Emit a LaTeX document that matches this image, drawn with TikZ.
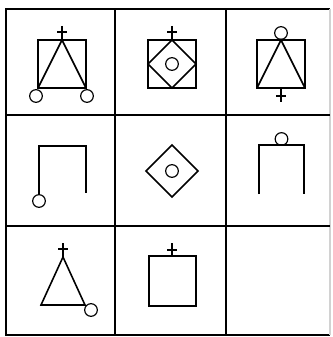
\documentclass[tikz,border=0pt]{standalone}
\usepackage{tikz}

\begin{document}
\begin{tikzpicture}[x=0.3mm,y=-0.3mm,line width=1.35pt,radius=1.9mm,
  frame/.style={line width=1.2pt},ring/.style={line width=1pt}]
 \useasboundingbox (0,0) rectangle (332,337);
 \draw[frame,line width=1.6pt] (330,335) -- (6,335) -- (6,9) -- (330,9);
 \draw[frame,gray!35] (330,9) -- (330,335);
 \foreach \v in {115,226}
   {\draw[frame] (\v,9) -- (\v,335); \draw[frame] (6,\v) -- (330,\v);}
 % row 1
 \draw (38,40) rectangle (86,88); \draw (38,88) -- (62,40) -- (86,88);
 \draw (62,26) -- (62,40) (57,32) -- (67,32);
 \draw[ring] (36,96) circle; \draw[ring] (87,96) circle;
 \draw (148,40) rectangle (196,88); \draw (172,40) -- (196,64) -- (172,88) -- (148,64) -- cycle;
 \draw (172,26) -- (172,40) (167,32) -- (177,32);
 \draw[ring] (172,64) circle;
 \draw (257,40) rectangle (305,88); \draw (257,88) -- (281,40) -- (305,88);
 \draw[ring] (281,33) circle;
 \draw (281,88) -- (281,102) (276,96) -- (286,96);
 % row 2
 \draw (39,195) -- (39,146) -- (86,146) -- (86,193);
 \draw[ring] (39,201) circle;
 \draw (172,145) -- (198,171) -- (172,197) -- (146,171) -- cycle;
 \draw[ring] (172,171) circle;
 \draw (259,194) -- (259,145) -- (304,145) -- (304,194);
 \draw[ring] (281.5,139) circle;
 % row 3
 \draw (63,257) -- (41,305) -- (85,305) -- cycle;
 \draw (63,243) -- (63,257) (58,249) -- (68,249);
 \draw[ring] (91,310) circle;
 \draw (149,256) rectangle (196,306);
 \draw (172,243) -- (172,256) (167,250) -- (177,250);
\end{tikzpicture}
\end{document}
